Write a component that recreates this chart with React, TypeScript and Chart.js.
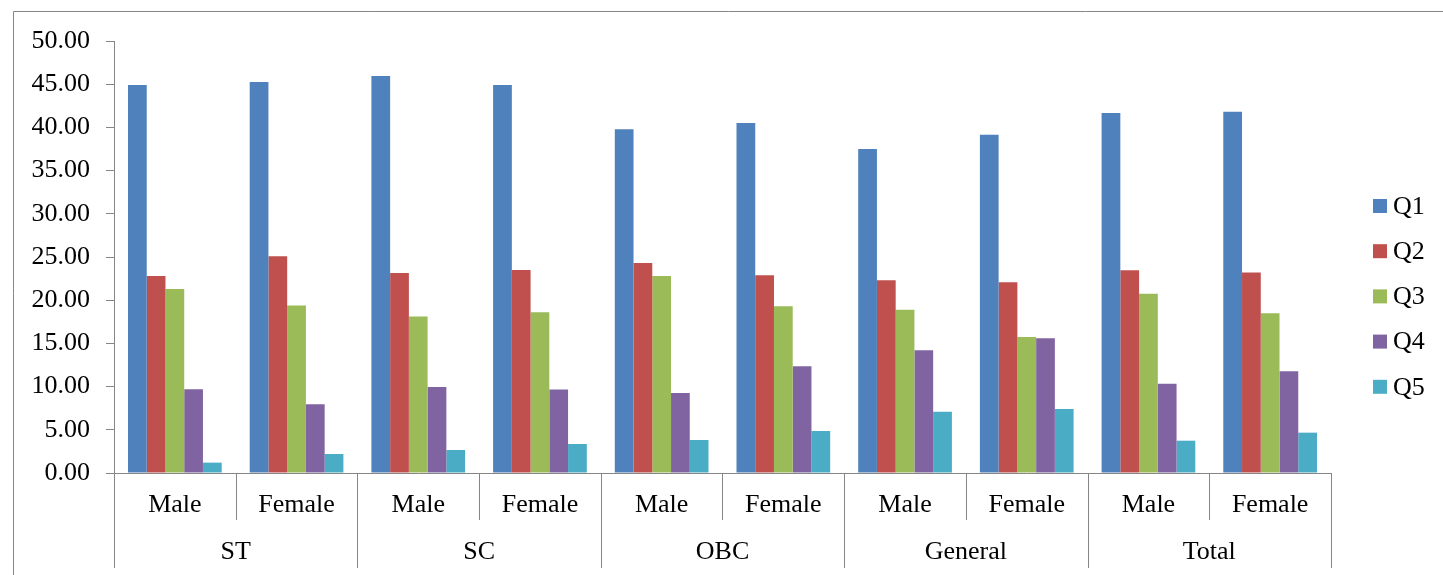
import React, { useEffect, useRef } from "react";
import { Chart, registerables } from "chart.js";

Chart.register(...registerables);

const subLabels = ["Male", "Female", "Male", "Female", "Male", "Female", "Male", "Female", "Male", "Female"];
const groupLabels = ["ST", "SC", "OBC", "General", "Total"];
const seriesNames = ["Q1", "Q2", "Q3", "Q4", "Q5"];
const seriesColors = ["#4F81BD", "#C0504D", "#9BBB59", "#8064A2", "#4BACC6"];

const q1 = [44.9, 45.25, 45.95, 44.9, 39.8, 40.5, 37.5, 39.15, 41.67, 41.8];
const q2 = [22.8, 25.1, 23.15, 23.5, 24.3, 22.9, 22.3, 22.07, 23.46, 23.2];
const q3 = [21.3, 19.4, 18.1, 18.6, 22.8, 19.3, 18.9, 15.74, 20.76, 18.5];
const q4 = [9.7, 7.95, 9.95, 9.65, 9.26, 12.35, 14.2, 15.6, 10.34, 11.77];
const q5 = [1.2, 2.2, 2.66, 3.36, 3.82, 4.86, 7.1, 7.4, 3.74, 4.67];

const yTicksMin = 0;
const yTicksMax = 50;
const yStep = 5;

const FONT = '"Liberation Serif", "Times New Roman", serif';
const AXIS = "#868686";

const overlayPlugin = {
  id: "overlay",
  afterDraw(chart: any) {
    const ctx = chart.ctx;
    const xs = chart.scales.x;
    const area = chart.chartArea;
    ctx.save();
    // outer frame
    ctx.strokeStyle = AXIS;
    ctx.lineWidth = 1;
    ctx.beginPath();
    ctx.moveTo(13.5, chart.height);
    ctx.lineTo(13.5, 11.5);
    ctx.lineTo(chart.width, 11.5);
    ctx.stroke();

    // x separators
    const c0 = xs.getPixelForValue(0);
    const c1 = xs.getPixelForValue(1);
    const w = c1 - c0;
    const bottom = area.bottom;
    ctx.beginPath();
    for (let i = 0; i <= subLabels.length; i++) {
      const x = Math.round(c0 - w / 2 + i * w) + 0.5;
      const len = i % 2 === 0 ? 95 : 47;
      ctx.moveTo(x, bottom);
      ctx.lineTo(x, bottom + len);
    }
    ctx.stroke();

    ctx.fillStyle = "#000";
    ctx.font = `26px ${FONT}`;
    ctx.textAlign = "center";
    ctx.textBaseline = "middle";
    subLabels.forEach((lab, i) => {
      ctx.fillText(lab, xs.getPixelForValue(i), bottom + 32);
    });
    groupLabels.forEach((lab, g) => {
      const x = (xs.getPixelForValue(g * 2) + xs.getPixelForValue(g * 2 + 1)) / 2;
      ctx.fillText(lab, x, bottom + 79);
    });

    // legend
    ctx.textAlign = "left";
    seriesNames.forEach((name, i) => {
      const cy = 206 + i * 45.2;
      ctx.fillStyle = seriesColors[i];
      ctx.fillRect(1373, cy - 7, 14, 14);
      ctx.fillStyle = "#000";
      ctx.fillText(name, 1393, cy + 1);
    });
    ctx.restore();
  },
};

export default function App() {
  const ref = useRef<HTMLCanvasElement | null>(null);
  useEffect(() => {
    if (!ref.current) return;
    const data = [q1, q2, q3, q4, q5];
    const chart = new Chart(ref.current, {
      type: "bar",
      data: {
        labels: subLabels,
        datasets: seriesNames.map((name, i) => ({
          label: name,
          data: data[i],
          backgroundColor: seriesColors[i],
          borderColor: "rgba(255,255,255,0.5)",
          borderWidth: 0,
          categoryPercentage: 0.77,
          barPercentage: 1.0,
        })),
      },
      options: {
        responsive: false,
        animation: false,
        maintainAspectRatio: false,
        layout: { padding: { top: 41, right: 112, left: 0, bottom: 0 } },
        plugins: {
          legend: { display: false },
          tooltip: { enabled: false },
        },
        scales: {
          x: {
            type: "category",
            offset: true,
            grid: { display: false },
            ticks: { display: false },
            border: { display: true, color: AXIS, width: 1 },
            afterFit: (s: any) => {
              s.height = 102;
            },
          },
          y: {
            min: yTicksMin,
            max: yTicksMax,
            ticks: {
              stepSize: yStep,
              color: "#000",
              font: { family: FONT, size: 26 },
              padding: 16,
              callback: (v: any) => Number(v).toFixed(2),
            },
            grid: {
              drawOnChartArea: false,
              drawTicks: true,
              tickLength: 8,
              tickColor: AXIS,
            },
            border: { display: true, color: AXIS, width: 1 },
            afterFit: (s: any) => {
              s.width = 114;
            },
          },
        },
      },
      plugins: [overlayPlugin],
    });
    return () => chart.destroy();
  }, []);
  return (
    <div style={{ position: "fixed", left: 0, top: 0, width: 1443, height: 575, background: "#fff" }}>
      <canvas ref={ref} width={1443} height={575} style={{ width: 1443, height: 575, display: "block" }} />
    </div>
  );
}
